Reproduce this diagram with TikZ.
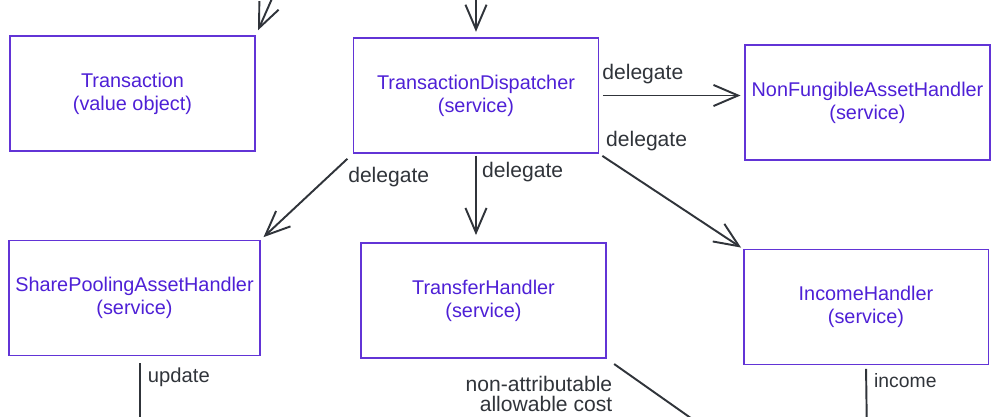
\documentclass[tikz,border=0pt]{standalone}
\usepackage{fontspec}
\setmainfont{Liberation Sans}
\usetikzlibrary{arrows.meta}
\definecolor{boxviolet}{RGB}{98,52,214}
\definecolor{txtviolet}{RGB}{78,32,214}
\definecolor{inkgrey}{RGB}{48,52,58}
\begin{document}
\begin{tikzpicture}[x=0.02cm, y=-0.02cm,
    component/.style ={rectangle, draw=boxviolet, line width=1.1pt, text=txtviolet, align=center, inner sep=0pt, minimum width=4.9cm, minimum height=2.3cm, font=\fontsize{11.3}{13}\selectfont},
    flow/.style ={draw=inkgrey, line width=1.1pt, -{Straight Barb[length=14pt,width=12pt]}},
    feed/.style ={draw=inkgrey, line width=1.1pt},
    note/.style ={text=inkgrey, font=\fontsize{12}{11}\selectfont, inner sep=1pt}]
   \useasboundingbox (0,0) rectangle (1000,416);
   \node[component] (trans)    at (132.5,93.5) {Transaction\\(value object)};
   \node[component] (disp)     at (476,95.5)   {TransactionDispatcher\\(service)};
   \node[component] (nfa)      at (867.5,102.5) {NonFungibleAssetHandler\\(service)};
   \node[component, minimum width=5.02cm] (spa) at (134.5,298) {SharePoolingAssetHandler\\(service)};
   \node[component] (transfer) at (483.5,300.5) {TransferHandler\\(service)};
   \node[component] (income)   at (866,307)    {IncomeHandler\\(service)};
   \coordinate (transin)     at (278,-15);
   \coordinate (dispin)      at (476,-15);
   \coordinate (spaout)      at (140,440);
   \coordinate (transferout) at (722,440);
   \coordinate (incomeout)   at (867,440);
   \draw[flow, shorten >=3pt] (transin) to (trans.north east);
   \draw[flow, shorten >=3pt] (dispin) to (disp.north);
   \draw[flow, shorten <=2pt, shorten >=2pt] (disp.east) to node[note, pos=0.3, above=5pt] {delegate} (disp.east -| nfa.west);
   \draw[flow, shorten <=4pt, shorten >=2pt] (disp.south west) to node[note, pos=0.12, anchor=north west, shift={(4,0)}] {delegate} (spa.north east);
   \draw[flow, shorten <=1pt, shorten >=4pt] (disp.south) to node[note, pos=0.2, right=2pt] {delegate} (disp.south |- transfer.north);
   \draw[flow, shorten <=2pt, shorten >=1pt] (disp.south east) to node[note, at start, anchor=south west, shift={(4,0)}] {delegate} (income.north west);
   \draw[feed, shorten <=4pt] (spaout |- spa.south) to node[note, pos=0.25, right=3pt, font=\fontsize{11.5}{12}\selectfont] {update} (spaout);
   \draw[feed, shorten <=5pt] (transfer.south east) to node[note, at start, anchor=north east, align=right, shift={(8,15)}] {non-attributable\\allowable cost} (transferout);
   \draw[feed, shorten <=2pt] (income.south) to node[note, pos=0.2, right=3pt, font=\fontsize{11}{12}\selectfont] {income} (incomeout);
 \end{tikzpicture}
\end{document}
